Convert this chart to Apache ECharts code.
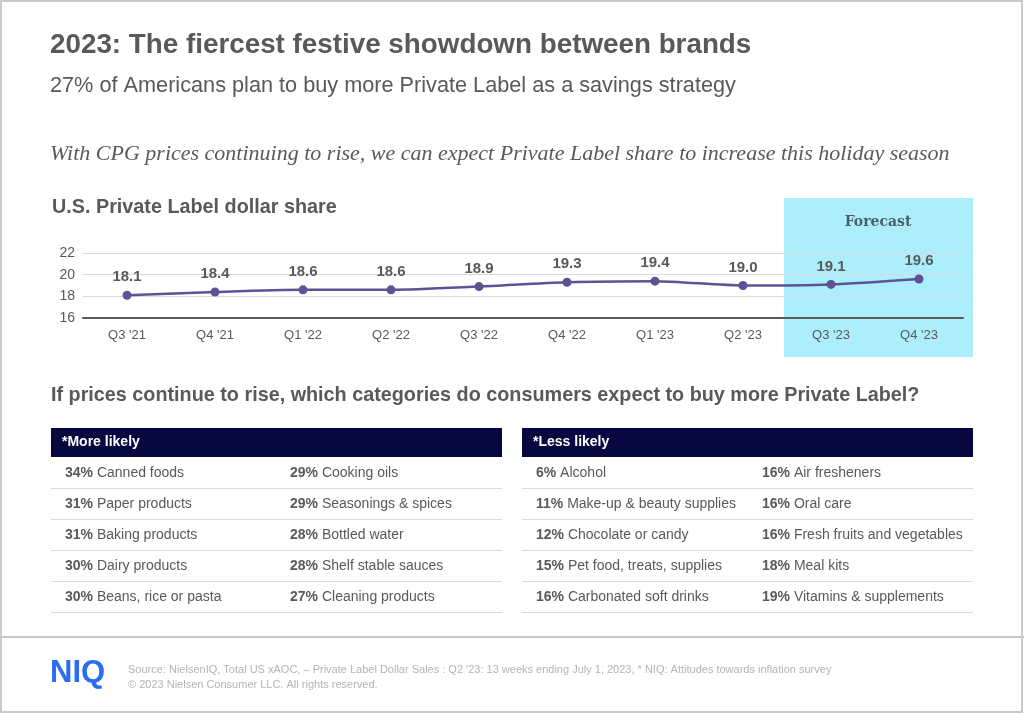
<!DOCTYPE html>
<html><head><meta charset="utf-8">
<script src="https://cdn.jsdelivr.net/npm/echarts@6/dist/echarts.min.js"></script>
<style>html,body{margin:0;padding:0;background:#fff}#c{width:1024px;height:714px}</style>
</head><body><div id="c"></div>
<script>
const categories = ["Q3 '21","Q4 '21","Q1 '22","Q2 '22","Q3 '22","Q4 '22","Q1 '23","Q2 '23","Q3 '23","Q4 '23"];
const shareValues = [18.1,18.4,18.6,18.6,18.9,19.3,19.4,19.0,19.1,19.6];
const yMin = 16, yMax = 22, yStep = 2;

const moreLikelyCol1 = [["34%","Canned foods"],["31%","Paper products"],["31%","Baking products"],["30%","Dairy products"],["30%","Beans, rice or pasta"]];
const moreLikelyCol2 = [["29%","Cooking oils"],["29%","Seasonings & spices"],["28%","Bottled water"],["28%","Shelf stable sauces"],["27%","Cleaning products"]];
const lessLikelyCol1 = [["6%","Alcohol"],["11%","Make-up & beauty supplies"],["12%","Chocolate or candy"],["15%","Pet food, treats, supplies"],["16%","Carbonated soft drinks"]];
const lessLikelyCol2 = [["16%","Air fresheners"],["16%","Oral care"],["16%","Fresh fruits and vegetables"],["18%","Meal kits"],["19%","Vitamins & supplements"]];

const SANS = "Liberation Sans, Arial, sans-serif";
const GRAY = "#595959";
const graphics = [];

// forecast box (behind axes)
graphics.push({type:'rect', z:-10, shape:{x:784,y:198,width:189,height:159}, style:{fill:'#adeefc'}});

// frame & divider
graphics.push({type:'rect', shape:{x:1,y:1,width:1021,height:711}, style:{fill:null, stroke:'#cacaca', lineWidth:2}, silent:true});
graphics.push({type:'line', shape:{x1:0,y1:637,x2:1024,y2:637}, style:{stroke:'#c8c8c8', lineWidth:2}});

function txt(x,y,text,font,fill,align){graphics.push({type:'text', x:x, y:y, style:{text:text, font:font, fill:fill, textAlign:align||'left', textVerticalAlign:'middle'}});}
txt(50,45,"2023: The fiercest festive showdown between brands","bold 27.8px "+SANS,GRAY);
txt(50,86,"27% of Americans plan to buy more Private Label as a savings strategy","21.7px "+SANS,GRAY);
txt(50,154,"With CPG prices continuing to rise, we can expect Private Label share to increase this holiday season","italic 22px Liberation Serif, serif",GRAY);
txt(52,208,"U.S. Private Label dollar share","bold 19.8px "+SANS,GRAY);
txt(51,396,"If prices continue to rise, which categories do consumers expect to buy more Private Label?","bold 19.8px "+SANS,GRAY);
txt(878,222,"Forecast","bold 14px DejaVu Serif, serif","#4a5f66",'center');

// tables
function table(x0, w, header, col1, col2, col2x){
  graphics.push({type:'rect', shape:{x:x0,y:428,width:w,height:29}, style:{fill:'#080840'}});
  txt(x0+11,442,header,"bold 14px "+SANS,"#ffffff");
  for(let i=0;i<col1.length;i++){
    const cy = 473 + i*31;
    graphics.push({type:'line', shape:{x1:x0,y1:cy+15.5,x2:x0+w,y2:cy+15.5}, style:{stroke:'#dcdcdc', lineWidth:1}});
    [[col1[i], x0+14],[col2[i], x0+col2x]].forEach(function(c){
      graphics.push({type:'text', x:c[1], y:cy, style:{text:'{b|'+c[0][0]+'} '+c[0][1], font:"14px "+SANS, fill:GRAY, textVerticalAlign:'middle',
        rich:{b:{font:"bold 14px "+SANS, fill:GRAY}}}});
    });
  }
}
table(51, 451, "*More likely", moreLikelyCol1, moreLikelyCol2, 239);
table(522, 451, "*Less likely", lessLikelyCol1, lessLikelyCol2, 240);

// footer
txt(50,673,"NIQ","bold 31px "+SANS,"#2b6cf0");
txt(128,670,"Source: NielsenIQ, Total US xAOC, \u2013 Private Label Dollar Sales : Q2 '23: 13 weeks ending July 1, 2023, * NIQ: Attitudes towards inflation survey","11px "+SANS,"#b4b4b4");
txt(128,685,"\u00a9 2023 Nielsen Consumer LLC. All rights reserved.","11px "+SANS,"#b4b4b4");

const chart = echarts.init(document.getElementById('c'), null, {renderer:'canvas'});
chart.setOption({
  animation:false,
  backgroundColor:'#ffffff',
  grid:{left:83, right:61, top:253, bottom:714-318, containLabel:false},
  xAxis:{type:'category', data:categories, boundaryGap:true, z:5,
    axisLine:{lineStyle:{color:'#595959', width:2}}, axisTick:{show:false},
    axisLabel:{color:GRAY, fontSize:13, fontFamily:SANS, margin:11}},
  yAxis:{type:'value', min:yMin, max:yMax, interval:yStep, z:5,
    axisLine:{show:false}, axisTick:{show:false},
    axisLabel:{color:GRAY, fontSize:14, fontFamily:SANS, margin:8},
    splitLine:{lineStyle:{color:'#d9d9d9', width:1}}},
  series:[{type:'line', data:shareValues, smooth:0.25, symbol:'circle', symbolSize:9, z:6,
    lineStyle:{color:'#5e5196', width:2.5}, itemStyle:{color:'#5e5196'},
    label:{show:true, position:'top', distance:6, color:GRAY, fontSize:15, fontWeight:'bold', fontFamily:SANS,
      formatter:function(p){return p.value.toFixed(1);}}}],
  graphic:{elements:graphics}
});
</script></body></html>
